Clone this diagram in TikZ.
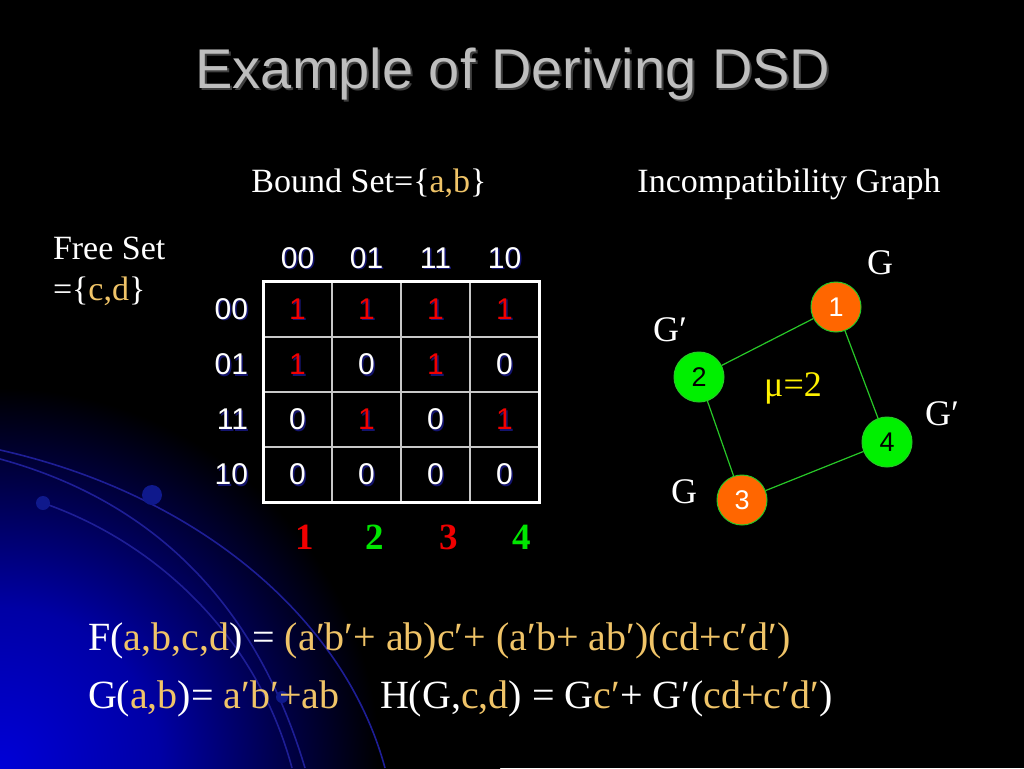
\documentclass[tikz,border=0pt]{standalone}
\usepackage{fontspec}
\setmainfont{Liberation Serif}
\newfontfamily\arial{Liberation Sans}
\usetikzlibrary{shadings}
\definecolor{gold}{RGB}{240,196,104}
\definecolor{titlegray}{RGB}{190,190,190}
\definecolor{gridgray}{RGB}{200,200,200}
\definecolor{nodeorange}{RGB}{255,102,0}
\definecolor{nodegreen}{RGB}{0,240,0}
\definecolor{edgegreen}{RGB}{40,200,40}
\definecolor{arcblue}{RGB}{30,30,150}
\definecolor{dotblue}{RGB}{15,25,140}
\definecolor{cbA}{RGB}{0,0,215}
\definecolor{cbB}{RGB}{0,0,165}
\definecolor{cbC}{RGB}{0,0,60}
\definecolor{keyred}{RGB}{240,0,0}
\definecolor{keygreen}{RGB}{0,230,0}
\definecolor{shadowblue}{RGB}{20,20,110}
\pgfdeclareradialshading{corner}{\pgfpointorigin}{color(0bp)=(cbA); color(8bp)=(cbB); color(15bp)=(cbC); color(19bp)=(black); color(50bp)=(black)}
\newcommand\setfs[1]{\fontsize{#1}{#1}\selectfont}
\newcommand\prm{\char"2032\relax}
\newcommand\gd[1]{\textcolor{gold}{#1}}
\tikzset{
  txt/.style={inner sep=0pt, outer sep=0pt, text=white},
  body/.style={txt, font=\setfs{34}},
  eqn/.style={txt, font=\setfs{40}, anchor=base west},
  digit/.style={txt, font=\arial\setfs{30}},
  key/.style={txt, font=\bfseries\setfs{37}, anchor=center},
  gnode/.style={circle, minimum size=50pt, inner sep=0pt, draw=edgegreen, line width=1pt, font=\arial\setfs{27}},
  gorange/.style={gnode, fill=nodeorange, text=white},
  ggreen/.style={gnode, fill=nodegreen, text=black},
  glabel/.style={txt, font=\setfs{36}, anchor=center},
  edge/.style={draw=edgegreen, line width=1.2pt},
  arc/.style={draw=arcblue, line width=1.6pt},
  ball/.style={fill=dotblue, draw=none}
}
\begin{document}
\begin{tikzpicture}[x=1pt,y=-1pt]
\useasboundingbox (0,0) rectangle (1024,768);
\begin{scope}
\clip (0,0) rectangle (1024,768);
\fill[black] (0,0) rectangle (1024,768);
\shade[shading=corner] (0,768) circle (500);
% decorative arcs
\draw[arc] (0,450) .. controls (200,495) and (345,620) .. (385,768);
\draw[arc] (0,459) .. controls (150,500) and (255,600) .. (305,768);
\draw[arc] (43,503) .. controls (150,540) and (255,630) .. (292,768);
\fill[ball] (152,495) circle (10);
\fill[ball] (43,503) circle (7);
\fill[ball] (282,697) circle (6);
\end{scope}

% title
\node[txt, font=\arial\setfs{56}, anchor=base, text=black!75] (titleshadow) at (515,90) {Example of Deriving DSD};
\node[txt, font=\arial\setfs{56}, anchor=base, text=titlegray] (title) at (513,88) {Example of Deriving DSD};

% headings
\node[body, anchor=base] (bound) at (369,192) {Bound Set=\{\gd{a,b}\}};
\node[body, anchor=base] (incomp) at (789,192) {Incompatibility Graph};
\node[body, anchor=base west] (free1) at (53,259) {Free Set};
\node[body, anchor=base west] (free2) at (53,300) {=\{\gd{c,d}\}};

% K-map grid
\foreach \x in {332,401,470} \draw[gridgray, line width=2pt] (\x,281) -- (\x,502);
\foreach \y in {337,392,447} \draw[gridgray, line width=2pt] (263,\y) -- (539,\y);
\draw[white, line width=3pt] (263,281) rectangle (539,502);

% column and row headers
\foreach \lab [count=\i] in {00,01,11,10} {
  \pgfmathsetmacro\cx{297.5+69*(\i-1)}
  \pgfmathsetmacro\ry{309+55.2*(\i-1)}
  \node[digit, text=shadowblue] at (\cx+1.5,259.5) {\lab};
  \node[digit] (col\i) at (\cx,258) {\lab};
  \node[digit, text=shadowblue, anchor=east] at (249.5,\ry+1.5) {\lab};
  \node[digit, anchor=east] (row\i) at (248,\ry) {\lab};
}

% cell values
\foreach \r/\vals in {1/{1,1,1,1},2/{1,0,1,0},3/{0,1,0,1},4/{0,0,0,0}} {
  \foreach \v [count=\c] in \vals {
    \pgfmathsetmacro\cx{297.5+69*(\c-1)}
    \pgfmathsetmacro\ry{309+55.2*(\r-1)}
    \ifnum\v=1 \def\vc{keyred}\else \def\vc{white}\fi
    \node[digit, text=shadowblue] at (\cx+1.5,\ry+1.5) {\v};
    \node[digit, text=\vc] (cell\r\c) at (\cx,\ry) {\v};
  }
}

% column class numbers
\node[key, text=keyred] (k1) at (305,537) {1};
\node[key, text=keygreen] (k2) at (375,537) {2};
\node[key, text=keyred] (k3) at (449,537) {3};
\node[key, text=keygreen] (k4) at (522,537) {4};

% incompatibility graph
\node[gorange] (n1) at (836,307) {1};
\node[ggreen] (n2) at (699,377) {2};
\node[gorange] (n3) at (742,500) {3};
\node[ggreen] (n4) at (887,442) {4};
\draw[edge] (n1) -- (n2);
\draw[edge] (n1) -- (n4);
\draw[edge] (n2) -- (n3);
\draw[edge] (n3) -- (n4);
\node[glabel] (l1) at (880,263) {G};
\node[glabel] (l2) at (670,330) {G\prm};
\node[glabel] (l4) at (942,414) {G\prm};
\node[glabel] (l3) at (684,492) {G};
\node[glabel, text=yellow] (mu) at (793,388) {μ=2};

% equations
\node[eqn] (eqF) at (88,650) {F(\gd{a,b,c,d}) = \gd{(a\prm b\prm+ ab)c\prm+ (a\prm b+ ab\prm)(cd+c\prm d\prm)}};
\node[eqn] (eqG) at (88,708) {G(\gd{a,b})= \gd{a\prm b\prm+ab}};
\node[eqn] (eqH) at (380,708) {H(G,\gd{c,d}) = G\gd{c\prm}+ G\prm(\gd{cd+c\prm d\prm})};
\end{tikzpicture}
\end{document}
